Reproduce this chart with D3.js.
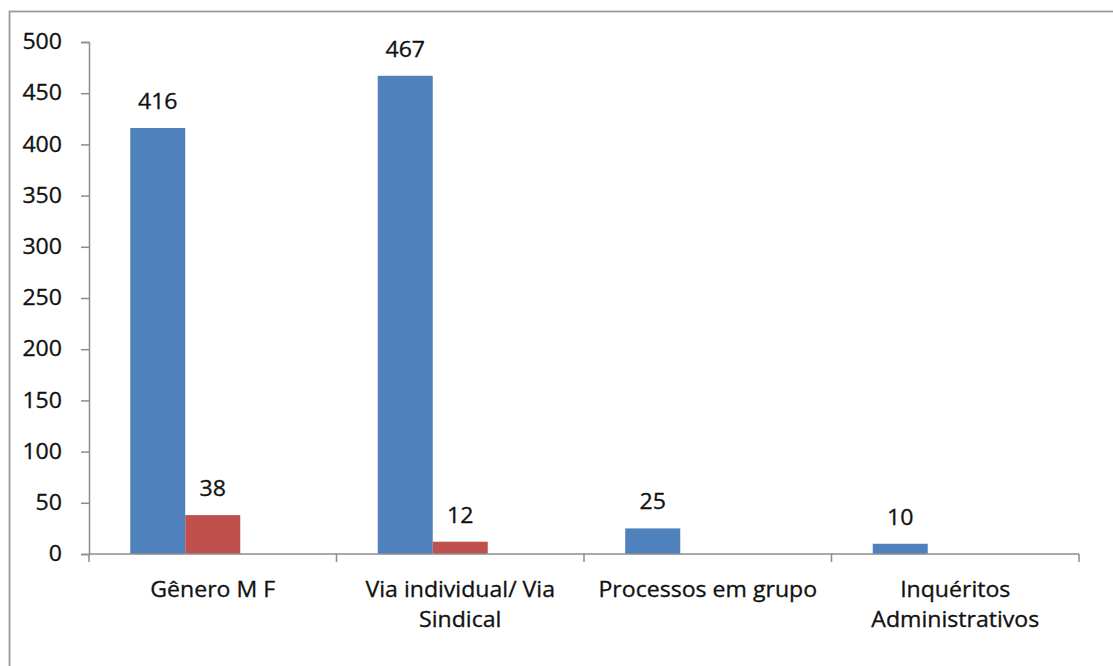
<!DOCTYPE html>
<html>
<head>
<meta charset="utf-8">
<script src="https://cdn.jsdelivr.net/npm/d3@7"></script>
<style>
  html, body { margin: 0; padding: 0; background: #fff; }
  svg { display: block; }
  text { font-family: "Open Sans", Lato, sans-serif; fill: #111; stroke: #111; stroke-width: 0.3px; }
</style>
</head>
<body>
<svg id="chart" width="1113" height="666"></svg>
<script>
// Categories (each may wrap onto two lines)
const categories = [
  ["Gênero M F"],
  ["Via individual/ Via", "Sindical"],
  ["Processos em grupo"],
  ["Inquéritos", "Administrativos"]
];
// Series values per category (null = no bar)
const series1 = [416, 467, 25, 10];
const series2 = [38, 12, null, null];
const series3 = [null, null, null, null];
const yTicks = [0, 50, 100, 150, 200, 250, 300, 350, 400, 450, 500];

const seriesList = [
  { key: "s1", values: series1, color: "#4F81BD" },
  { key: "s2", values: series2, color: "#C0504D" },
  { key: "s3", values: series3, color: "#9BBB59" }
];

const FONT_SIZE = 21;
const STRETCH = 1.1;   // horizontal stretch of all labels
const AXIS_COLOR = "#8c8c8c";

const svg = d3.select("#chart");
const plot = { left: 89, right: 1079, top: 42, bottom: 554 };

// Places a horizontally stretched label at (x, y)
function placeText(sel, x, y) {
  sel.attr("x", 0).attr("y", 0)
     .attr("transform", (d, i, n) => `translate(${x(d, i, n)},${y(d, i, n)}) scale(${STRETCH},1)`)
     .attr("font-size", FONT_SIZE);
}

// Outer chart frame (runs past the right and bottom edges)
svg.append("rect")
  .attr("x", 9.5).attr("y", 11.5)
  .attr("width", 1200).attr("height", 800)
  .attr("fill", "none").attr("stroke", "#999").attr("stroke-width", 1.8);

const idx = d3.range(categories.length);
const x0 = d3.scaleBand().domain(idx).range([plot.left, plot.right]).paddingInner(0).paddingOuter(0);
const x1 = d3.scaleBand().domain(seriesList.map(s => s.key))
  .range([0, x0.bandwidth()]).paddingInner(0).paddingOuter(0.75);
const y = d3.scaleLinear().domain([0, 500]).range([plot.bottom, plot.top]);

// Y axis
const yAxis = svg.append("g")
  .attr("transform", `translate(${plot.left},0)`)
  .call(d3.axisLeft(y).tickValues(yTicks).tickSize(8).tickPadding(19));
yAxis.select(".domain").attr("stroke", AXIS_COLOR).attr("stroke-width", 1.5);
yAxis.selectAll(".tick line").attr("stroke", AXIS_COLOR).attr("stroke-width", 1.5);
yAxis.selectAll(".tick text")
  .attr("font-size", FONT_SIZE).attr("fill", "#111")
  .style("font-family", "'Open Sans', Lato, sans-serif")
  .attr("x", -27 / STRETCH)
  .attr("transform", `scale(${STRETCH},1)`);

// Bars and value labels
seriesList.forEach(s => {
  const data = idx.filter(i => s.values[i] != null);
  svg.append("g").selectAll("rect")
    .data(data).join("rect")
    .attr("x", i => x0(i) + x1(s.key))
    .attr("y", i => y(s.values[i]))
    .attr("width", x1.bandwidth())
    .attr("height", i => y(0) - y(s.values[i]))
    .attr("fill", s.color);
  svg.append("g").selectAll("text")
    .data(data).join("text")
    .attr("text-anchor", "middle")
    .text(i => s.values[i])
    .call(placeText,
      i => x0(i) + x1(s.key) + x1.bandwidth() / 2,
      i => y(s.values[i]) - 19);
});

// X axis: baseline with boundary ticks between categories
const xg = svg.append("g");
xg.append("line")
  .attr("x1", plot.left).attr("x2", plot.right)
  .attr("y1", plot.bottom).attr("y2", plot.bottom)
  .attr("stroke", AXIS_COLOR).attr("stroke-width", 1.5);
const bounds = idx.map(i => x0(i)).concat([x0(idx[idx.length - 1]) + x0.bandwidth()]);
xg.selectAll("line.b").data(bounds).join("line")
  .attr("class", "b")
  .attr("x1", d => d).attr("x2", d => d)
  .attr("y1", plot.bottom).attr("y2", plot.bottom + 8)
  .attr("stroke", AXIS_COLOR).attr("stroke-width", 1.5);

// Category labels
const lab = xg.selectAll("text.cat").data(idx).join("text")
  .attr("class", "cat")
  .attr("text-anchor", "middle")
  .call(placeText, i => x0(i) + x0.bandwidth() / 2, () => plot.bottom + 43);
lab.selectAll("tspan").data(i => categories[i]).join("tspan")
  .attr("x", 0)
  .attr("dy", (d, j) => j === 0 ? 0 : 30)
  .text(d => d);
</script>
</body>
</html>
